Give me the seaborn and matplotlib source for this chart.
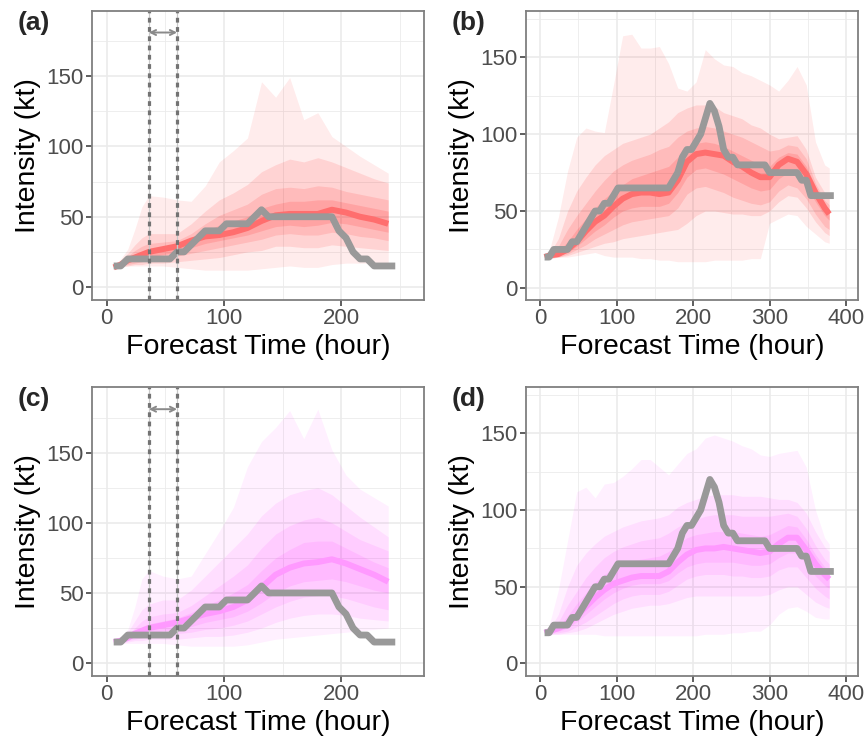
import numpy as np
import pandas as pd
import matplotlib
matplotlib.use("Agg")
import matplotlib.pyplot as plt
import seaborn as sns

sns.set_theme(style="ticks")
plt.rcParams['font.family'] = ['Liberation Sans', 'DejaVu Sans']

# ---------------- observed intensity (kt) ----------------
obs_t_short = list(range(6, 247, 6))
obs_short = [15, 15, 20, 20, 20, 20, 20, 20, 20, 25, 25, 30, 35, 40, 40, 40, 45, 45, 45, 45,
             50, 55, 50, 50, 50, 50, 50, 50, 50, 50, 50, 50, 40, 35, 25, 20, 20, 15, 15, 15, 15]
obs_t_long = list(range(6, 385, 6))
obs_long = [20, 20, 25, 25, 25, 25, 30, 30, 35, 40, 45, 50, 50, 55, 55, 60, 65,
            65, 65, 65, 65, 65, 65, 65, 65, 65, 65, 65,
            70, 75, 85, 90, 90, 95, 100, 110, 120, 115, 105, 90, 85, 85, 80,
            80, 80, 80, 80, 80, 80,
            75,
            75, 75, 75, 75, 75, 75,
            70, 70, 60,
            60, 60, 60, 60, 60]

# ---------------- forecast quantile bands ----------------
t_short = [6, 12, 18, 24, 30, 36, 48, 60, 72, 84, 96, 108, 120, 132, 144, 156, 168, 180, 192, 204, 216, 228, 240]

# panel (a)
a_hi1 = [15, 20, 27, 41, 57, 65, 64, 62, 61, 72, 89, 97, 106, 146, 135, 149, 119, 124, 107, 100, 93, 87, 81]
a_hi2 = [15, 19, 24, 30, 35, 38, 38, 38, 45, 54, 62, 67, 73, 82, 87, 91, 89, 92, 89, 85, 81, 77, 74]
a_hi3 = [15, 18, 22, 26, 29, 31, 32, 33, 38, 45, 51, 55, 59, 66, 70, 71, 70, 72, 71, 68, 66, 64, 62]
a_hi4 = [14, 17, 20, 23, 25, 27, 29, 31, 35, 40, 44, 47, 50, 56, 59, 61, 61, 62, 62, 60, 58, 56, 54]
a_med = [14, 16, 19, 21, 23, 25, 27, 29, 33, 36, 37, 39, 42, 47, 51, 52, 52, 52, 55, 53, 50, 48, 45]
a_lo4 = [14, 15, 17, 19, 20, 21, 23, 25, 28, 31, 33, 35, 37, 40, 43, 44, 43, 44, 46, 45, 43, 41, 39]
a_lo3 = [14, 15, 16, 17, 18, 19, 20, 22, 24, 26, 28, 30, 32, 34, 37, 38, 37, 37, 39, 38, 36, 35, 33]
a_lo2 = [14, 15, 15, 16, 16, 17, 17, 18, 19, 20, 21, 23, 25, 26, 29, 29, 28, 28, 30, 29, 28, 27, 26]
a_lo1 = [14, 14, 15, 15, 15, 15, 15, 14, 13, 12, 12, 12, 12, 13, 14, 15, 14, 14, 16, 17, 17, 17, 17]

# panel (c)
c_hi1 = [15, 18, 24, 40, 60, 66, 62, 60, 62, 78, 94, 111, 140, 158, 168, 180, 160, 181, 152, 134, 124, 118, 112]
c_hi2 = [15, 18, 22, 30, 38, 42, 45, 45, 52, 62, 72, 82, 92, 105, 114, 120, 123, 125, 120, 112, 104, 97, 90]
c_hi3 = [15, 17, 20, 25, 30, 33, 35, 36, 41, 48, 55, 62, 70, 82, 92, 98, 102, 104, 100, 94, 88, 84, 80]
c_hi4 = [15, 16, 19, 22, 26, 28, 30, 32, 36, 41, 45, 50, 56, 66, 75, 81, 86, 87, 87, 82, 77, 72, 68]
c_med = [15, 16, 18, 21, 23, 25, 27, 29, 32, 35, 37, 40, 45, 54, 63, 68, 71, 72, 74, 71, 67, 63, 58]
c_lo4 = [14, 15, 17, 19, 20, 21, 23, 24, 26, 29, 31, 33, 37, 43, 50, 55, 58, 59, 60, 58, 55, 52, 50]
c_lo3 = [14, 15, 16, 17, 18, 19, 20, 21, 22, 24, 25, 27, 30, 35, 40, 44, 47, 48, 48, 46, 43, 40, 38]
c_lo2 = [14, 14, 15, 16, 16, 17, 17, 17, 18, 19, 19, 20, 22, 25, 29, 32, 34, 35, 35, 34, 32, 31, 30]
c_lo1 = [14, 14, 14, 14, 14, 14, 14, 13, 12, 12, 12, 12, 13, 15, 17, 18, 19, 20, 21, 22, 23, 24, 25]

t_long = [6, 12, 24, 36, 48, 60, 72, 84, 96, 108, 120, 132, 144, 156, 168, 180, 192, 204, 216, 228,
          240, 252, 264, 276, 288, 300, 312, 324, 336, 348, 360, 372, 378]

# panel (b)
b_hi1 = [20, 24, 46, 76, 98, 104, 102, 101, 132, 164, 165, 156, 156, 157, 146, 130, 128, 134, 155, 149,
         145, 144, 140, 138, 135, 132, 128, 135, 144, 132, 95, 80, 78]
b_hi2 = [20, 22, 32, 50, 63, 72, 80, 86, 90, 94, 96, 98, 100, 104, 108, 114, 117, 119, 119, 118,
         114, 112, 110, 106, 104, 100, 97, 98, 99, 90, 72, 62, 60]
b_hi3 = [20, 21, 27, 38, 47, 55, 63, 70, 76, 80, 83, 85, 87, 90, 92, 98, 102, 104, 105, 104,
         102, 100, 98, 95, 92, 89, 90, 93, 92, 84, 68, 57, 54]
b_hi4 = [20, 21, 24, 30, 38, 45, 52, 58, 63, 67, 71, 73, 75, 77, 79, 85, 90, 94, 95, 94,
         92, 89, 86, 83, 80, 79, 85, 88, 87, 79, 66, 55, 51]
b_med = [20, 21, 22, 25, 30, 37, 43, 47, 53, 58, 61, 62, 62, 61, 62, 70, 82, 87, 88, 87,
         86, 82, 79, 75, 72, 72, 80, 84, 82, 74, 62, 52, 48]
b_lo4 = [19, 20, 21, 23, 27, 32, 37, 41, 46, 50, 52, 53, 53, 53, 55, 62, 72, 77, 78, 76,
         74, 71, 68, 65, 63, 64, 71, 75, 73, 66, 56, 47, 44]
b_lo3 = [19, 20, 20, 22, 25, 28, 32, 35, 38, 41, 43, 44, 45, 46, 47, 52, 61, 65, 66, 64,
         62, 59, 57, 55, 54, 56, 63, 67, 65, 58, 48, 40, 38]
b_lo2 = [19, 19, 20, 21, 23, 25, 27, 29, 30, 32, 33, 34, 35, 36, 37, 38, 42, 47, 50, 50,
         49, 48, 48, 47, 47, 50, 56, 60, 59, 52, 43, 36, 34]
b_lo1 = [19, 19, 20, 20, 21, 22, 23, 21, 20, 20, 20, 19, 19, 18, 18, 17, 17, 17, 17, 18,
         18, 18, 18, 19, 19, 42, 45, 48, 47, 40, 35, 30, 29]

# panel (d)
d_hi1 = [19, 25, 48, 80, 112, 115, 108, 117, 118, 122, 127, 133, 133, 128, 123, 130, 137, 140, 147, 149,
         147, 145, 142, 140, 136, 135, 137, 138, 139, 128, 100, 82, 78]
d_hi2 = [20, 22, 32, 50, 64, 72, 78, 83, 86, 89, 91, 93, 94, 95, 97, 102, 105, 107, 109, 110,
         110, 110, 109, 109, 109, 108, 107, 107, 105, 98, 86, 76, 73]
d_hi3 = [20, 21, 27, 38, 47, 56, 63, 69, 73, 76, 78, 80, 81, 82, 85, 89, 92, 94, 96, 97,
         97, 97, 96, 96, 96, 96, 97, 98, 96, 88, 77, 68, 65]
d_hi4 = [20, 21, 24, 31, 39, 46, 53, 58, 62, 65, 67, 68, 69, 70, 73, 78, 82, 84, 85, 86,
         86, 86, 85, 84, 83, 84, 87, 90, 89, 81, 71, 63, 60]
d_med = [20, 21, 23, 26, 31, 37, 43, 48, 52, 54, 56, 57, 57, 57, 60, 66, 71, 74, 75, 75,
         76, 75, 74, 73, 72, 73, 78, 82, 82, 74, 65, 58, 55]
d_lo4 = [19, 20, 21, 23, 27, 32, 37, 42, 46, 49, 51, 52, 52, 52, 54, 59, 63, 65, 66, 66,
         66, 66, 65, 64, 64, 65, 69, 72, 72, 65, 57, 51, 49]
d_lo3 = [19, 19, 20, 21, 24, 27, 31, 35, 39, 42, 44, 45, 45, 45, 47, 51, 55, 57, 58, 58,
         58, 57, 57, 56, 56, 57, 61, 63, 63, 56, 49, 44, 42]
d_lo2 = [19, 19, 19, 20, 21, 23, 26, 29, 32, 34, 36, 37, 38, 38, 39, 41, 43, 44, 44, 44,
         44, 44, 44, 44, 44, 45, 48, 50, 50, 45, 40, 37, 36]
d_lo1 = [19, 19, 19, 19, 19, 19, 19, 18, 18, 18, 18, 18, 18, 18, 18, 18, 18, 18, 19, 19,
         19, 20, 20, 21, 21, 25, 32, 36, 37, 34, 30, 29, 29]

panel_labels = ["(a)", "(b)", "(c)", "(d)"]
window_lines = [36, 60]
arrow_y = 181

RED_BASE = "#FF0000"
RED_ALPHAS = [0.075, 0.10, 0.115, 0.125]
RED_MED = "#FF6E6E"
MAG_BASE = "#FF00FF"
MAG_ALPHAS = [0.06, 0.075, 0.08, 0.085]
MAG_MED = "#FF99FF"
OBS_COL = "#999999"

fig = plt.figure(figsize=(8.65, 7.4), dpi=100)

W, H = 865.0, 740.0
def axrect(l, r, t, b):
    return [l / W, 1 - b / H, (r - l) / W, (b - t) / H]

axes = [
    fig.add_axes(axrect(92, 424, 11, 300)),
    fig.add_axes(axrect(525.7, 858.3, 11, 300)),
    fig.add_axes(axrect(92, 424, 387.3, 676)),
    fig.add_axes(axrect(525.7, 858.3, 387.3, 676)),
]

specs = [
    (t_short, [a_hi1, a_hi2, a_hi3, a_hi4], [a_lo1, a_lo2, a_lo3, a_lo4], a_med, obs_t_short, obs_short,
     RED_BASE, RED_ALPHAS, RED_MED, (-12.5, 270.5), (-9.2, 196.3), [0, 100, 200], [50, 150, 250], True),
    (t_long, [b_hi1, b_hi2, b_hi3, b_hi4], [b_lo1, b_lo2, b_lo3, b_lo4], b_med, obs_t_long, obs_long,
     RED_BASE, RED_ALPHAS, RED_MED, (-18.7, 416), (-7.9, 180.1), [0, 100, 200, 300, 400], [50, 150, 250, 350], False),
    (t_short, [c_hi1, c_hi2, c_hi3, c_hi4], [c_lo1, c_lo2, c_lo3, c_lo4], c_med, obs_t_short, obs_short,
     MAG_BASE, MAG_ALPHAS, MAG_MED, (-12.5, 270.5), (-9.2, 196.6), [0, 100, 200], [50, 150, 250], True),
    (t_long, [d_hi1, d_hi2, d_hi3, d_hi4], [d_lo1, d_lo2, d_lo3, d_lo4], d_med, obs_t_long, obs_long,
     MAG_BASE, MAG_ALPHAS, MAG_MED, (-18.7, 416), (-8.2, 180.1), [0, 100, 200, 300, 400], [50, 150, 250, 350], False),
]

for ax, spec, lab in zip(axes, specs, panel_labels):
    (tt, his, los, med, ot, ov, base, alphas, medcol, xl, yl, xmaj, xmin, win) = spec
    ax.set_facecolor("white")
    for hi, lo, al in zip(his, los, alphas):
        ax.fill_between(tt, lo, hi, color=base, alpha=al, lw=0, zorder=2)
    dmed = pd.DataFrame({"t": tt, "v": med})
    sns.lineplot(data=dmed, x="t", y="v", ax=ax, color=medcol, lw=4.3, zorder=3,
                 solid_capstyle="butt")
    dobs = pd.DataFrame({"t": ot, "v": ov})
    sns.lineplot(data=dobs, x="t", y="v", ax=ax, color=OBS_COL, lw=4.9, zorder=4,
                 solid_capstyle="butt", solid_joinstyle="round")
    if win:
        for xv in window_lines:
            ax.axvline(xv, color="#C8C8C8", lw=0.9, zorder=5)
            ax.axvline(xv, color="#737373", lw=2.3, ls=(0, (1.5, 1.4)), zorder=6)
        ax.annotate("", xy=(window_lines[0], arrow_y), xytext=(window_lines[1], arrow_y),
                    arrowprops=dict(arrowstyle="<->", color="#8A8A8A", lw=1.4,
                                    shrinkA=0, shrinkB=0, mutation_scale=9),
                    zorder=7)
    ax.set_xlim(*xl)
    ax.set_ylim(*yl)
    ax.set_xticks(xmaj)
    ax.set_xticks(xmin, minor=True)
    ax.set_yticks([0, 50, 100, 150])
    ax.set_yticks([25, 75, 125, 175], minor=True)
    ax.grid(which="major", color="#EBEBEB", lw=1.2, zorder=0)
    ax.grid(which="minor", color="#EBEBEB", lw=0.6, zorder=0)
    ax.set_axisbelow(True)
    ax.tick_params(which="major", direction="out", length=4, width=1.1, color="#333333",
                   labelsize=16, labelcolor="#4D4D4D", pad=2, bottom=True, left=True)
    ax.tick_params(which="minor", length=0)
    for sp in ax.spines.values():
        sp.set_color("#7F7F7F")
        sp.set_linewidth(1.3)
        sp.set_zorder(10)
    ax.set_xlabel("Forecast Time (hour)", fontsize=20.5, color="black", labelpad=3)
    ax.set_ylabel("Intensity (kt)", fontsize=20.5, color="black", labelpad=4)

fig.text(18 / W, 1 - 23 / H, "(a)", fontsize=19, fontweight="bold", ha="left", va="center")
fig.text(452 / W, 1 - 23 / H, "(b)", fontsize=19, fontweight="bold", ha="left", va="center")
fig.text(18 / W, 1 - 399 / H, "(c)", fontsize=19, fontweight="bold", ha="left", va="center")
fig.text(452 / W, 1 - 399 / H, "(d)", fontsize=19, fontweight="bold", ha="left", va="center")

fig.savefig("out.png", dpi=100)
